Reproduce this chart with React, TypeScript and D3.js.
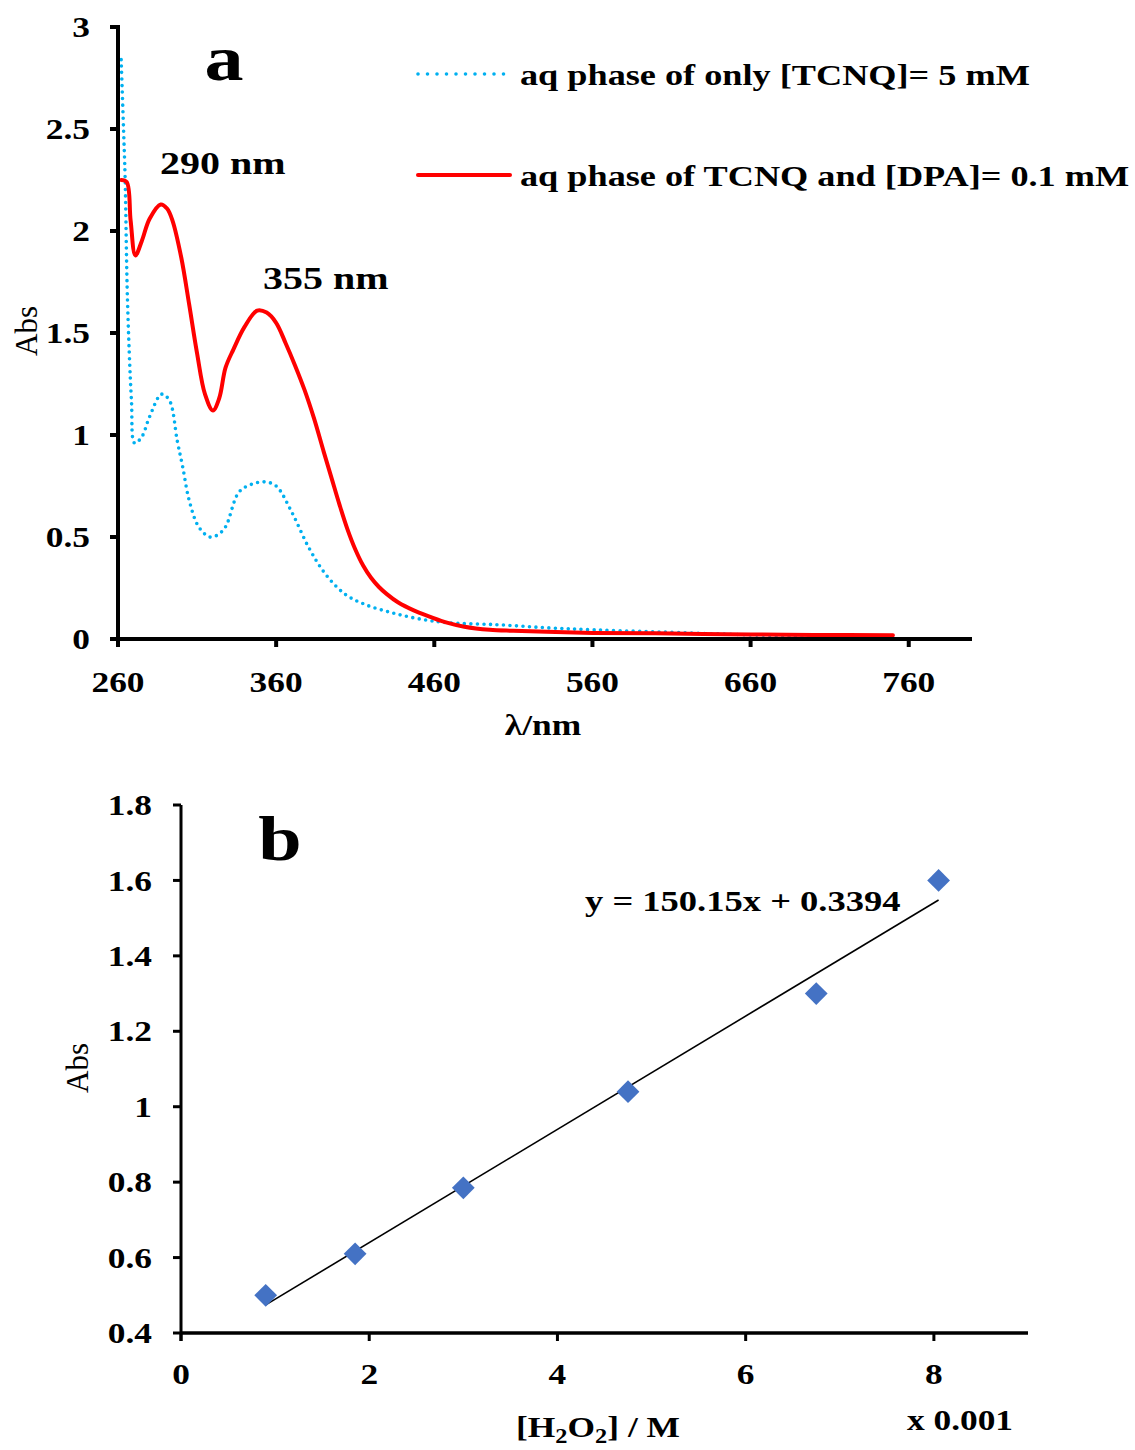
import React from 'react';
import * as d3 from 'd3';

// panel a: UV-vis spectra
const blueLambda = [262, 263.5, 264.5, 266, 268.5, 270.5, 275, 280, 287.5, 292.5, 297.5, 301, 305, 311, 318, 323, 328, 336.5, 345, 353, 360, 370, 380.5, 391, 403.5, 416, 432.5, 449.5, 468, 500, 531, 560, 600, 660, 700, 745];
const blueAbs = [2.84, 2.5, 2.26, 1.66, 1.17, 0.96, 0.99, 1.09, 1.2, 1.17, 0.97, 0.84, 0.68, 0.55, 0.5, 0.51, 0.55, 0.72, 0.76, 0.77, 0.75, 0.62, 0.45, 0.32, 0.22, 0.17, 0.13, 0.1, 0.08, 0.07, 0.055, 0.045, 0.035, 0.02, 0.012, 0.006];
const redLambda = [262, 265.5, 268, 271, 275, 280, 287, 291, 294.5, 300, 305, 310, 315, 320, 324, 328, 333, 340, 348, 354, 360, 366, 372, 378, 384, 390, 395, 400, 405, 410, 415, 420, 425, 430, 437, 447, 457, 468, 479, 495, 510, 531, 560, 600, 660, 700, 750];
const redAbs = [2.25, 2.24, 2.05, 1.88, 1.95, 2.06, 2.13, 2.11, 2.05, 1.87, 1.64, 1.4, 1.2, 1.12, 1.18, 1.33, 1.42, 1.53, 1.61, 1.6, 1.55, 1.45, 1.34, 1.22, 1.08, 0.92, 0.79, 0.66, 0.54, 0.44, 0.36, 0.3, 0.255, 0.22, 0.18, 0.14, 0.11, 0.08, 0.06, 0.045, 0.04, 0.035, 0.03, 0.028, 0.022, 0.02, 0.018];
const aXTicks = [260, 360, 460, 560, 660, 760];
const aYTicks = [0, 0.5, 1, 1.5, 2, 2.5, 3];
const legendLabels = ['aq phase of only [TCNQ]= 5 mM', 'aq phase of TCNQ and [DPA]= 0.1 mM'];

// panel b: calibration
const conc = [0.9, 1.85, 3.0, 4.75, 6.75, 8.05];
const absB = [0.5, 0.61, 0.785, 1.04, 1.3, 1.6];
const slope = 0.15015; // 150.15 per M, x in units of 0.001 M
const intercept = 0.3394;
const bXTicks = [0, 2, 4, 6, 8];
const bYTicks = [0.4, 0.6, 0.8, 1, 1.2, 1.4, 1.6, 1.8];

const FONT = '"Liberation Serif", "Times New Roman", serif';
const SX = 1.22; // the source picture is stretched sideways

const T = ({ x, y, size = 29, bold = true, anchor = 'start', dy, sx = SX, children }: any) => (
  <text
    transform={`translate(${x},${y}) scale(${sx},1)`}
    dy={dy}
    textAnchor={anchor}
    fontSize={size}
    fontWeight={bold ? 'bold' : 'normal'}
  >
    {children}
  </text>
);

export default function App() {
  const xA = d3.scaleLinear().domain([260, 800]).range([118, 972]);
  const yA = d3.scaleLinear().domain([0, 3]).range([639, 27]);
  const xB = d3.scaleLinear().domain([0, 9]).range([181, 1028]);
  const yB = d3.scaleLinear().domain([0.4, 1.8]).range([1333, 805]);

  const lineA = d3.line<[number, number]>()
    .x(d => xA(d[0]))
    .y(d => yA(d[1]))
    .curve(d3.curveCatmullRom.alpha(0.5));

  const blueD = lineA(blueLambda.map((l, i) => [l, blueAbs[i]]));
  const redD = lineA(redLambda.map((l, i) => [l, redAbs[i]]));

  const fitX = [conc[0], conc[conc.length - 1]];
  const diamond = d3.symbol().type(d3.symbolDiamond2).size(330)();

  return (
    <svg width={1135} height={1450} style={{ position: 'absolute', left: 0, top: 0 }} fontFamily={FONT}>
      <rect width={1135} height={1450} fill="#fff" />

      {/* ---------- panel a ---------- */}
      <path d={blueD || ''} fill="none" stroke="#00b0f0" strokeWidth={3.6} strokeDasharray="0 6.5" strokeLinecap="round" />
      <path d={redD || ''} fill="none" stroke="#ff0000" strokeWidth={4} strokeLinejoin="round" strokeLinecap="round" />

      <line x1={xA(260)} x2={xA(260)} y1={yA(3) - 2} y2={yA(0) + 2} stroke="#000" strokeWidth={4} />
      <line x1={110} x2={xA(800)} y1={yA(0)} y2={yA(0)} stroke="#000" strokeWidth={4} />
      {aYTicks.map(t => (
        <g key={'ay' + t}>
          <line x1={110} x2={xA(260)} y1={yA(t)} y2={yA(t)} stroke="#000" strokeWidth={4} />
          <T x={90} y={yA(t)} dy="0.35em" anchor="end">{t}</T>
        </g>
      ))}
      {aXTicks.map(t => (
        <g key={'ax' + t}>
          <line x1={xA(t)} x2={xA(t)} y1={yA(0)} y2={yA(0) + 8} stroke="#000" strokeWidth={4} />
          <T x={xA(t)} y={692} anchor="middle">{t}</T>
        </g>
      ))}
      <T x={543} y={735} anchor="middle">λ/nm</T>
      <text transform="translate(37,331) rotate(-90)" textAnchor="middle" fontSize={31}>Abs</text>

      <T x={224} y={80} size={64} anchor="middle">a</T>
      <T x={160} y={174} size={32} sx={1.25}>290 nm</T>
      <T x={263} y={289} size={32} sx={1.25}>355 nm</T>

      <line x1={418} x2={504} y1={74} y2={74} stroke="#00b0f0" strokeWidth={3.6} strokeDasharray="0 9.5" strokeLinecap="round" />
      <T x={520} y={85} size={29} sx={1.25}>{legendLabels[0]}</T>
      <line x1={418} x2={510} y1={175} y2={175} stroke="#ff0000" strokeWidth={4} strokeLinecap="round" />
      <T x={520} y={186} size={29} sx={1.25}>{legendLabels[1]}</T>

      {/* ---------- panel b ---------- */}
      <line x1={xB(0)} x2={xB(0)} y1={yB(1.8)} y2={yB(0.4) + 8} stroke="#000" strokeWidth={3} />
      <line x1={xB(0)} x2={xB(9)} y1={yB(0.4)} y2={yB(0.4)} stroke="#000" strokeWidth={3.5} />
      {bYTicks.map(t => (
        <g key={'by' + t}>
          <line x1={xB(0) - 8} x2={xB(0)} y1={yB(t)} y2={yB(t)} stroke="#000" strokeWidth={3} />
          <T x={152} y={yB(t)} dy="0.35em" anchor="end">{t}</T>
        </g>
      ))}
      {bXTicks.map(t => (
        <g key={'bx' + t}>
          <line x1={xB(t)} x2={xB(t)} y1={yB(0.4)} y2={yB(0.4) + 8} stroke="#000" strokeWidth={3} />
          <T x={xB(t)} y={1384} anchor="middle">{t}</T>
        </g>
      ))}
      <text transform="translate(88,1068) rotate(-90)" textAnchor="middle" fontSize={31}>Abs</text>
      <T x={598} y={1437} anchor="middle">
        [H<tspan fontSize={20} dy={6}>2</tspan><tspan dy={-6}>O</tspan><tspan fontSize={20} dy={6}>2</tspan><tspan dy={-6}>] / M</tspan>
      </T>
      <T x={960} y={1430} anchor="middle">x 0.001</T>
      <T x={280} y={860} size={64} anchor="middle">b</T>

      <line x1={xB(fitX[0])} y1={yB(slope * fitX[0] + intercept)} x2={xB(fitX[1])} y2={yB(slope * fitX[1] + intercept)} stroke="#000" strokeWidth={1.6} />
      {conc.map((c, i) => (
        <path key={'pt' + i} d={diamond || ''} transform={`translate(${xB(c)},${yB(absB[i])})`} fill="#4472c4" />
      ))}
      <T x={585} y={911} size={29} sx={1.26}>y = 150.15x + 0.3394</T>
    </svg>
  );
}
